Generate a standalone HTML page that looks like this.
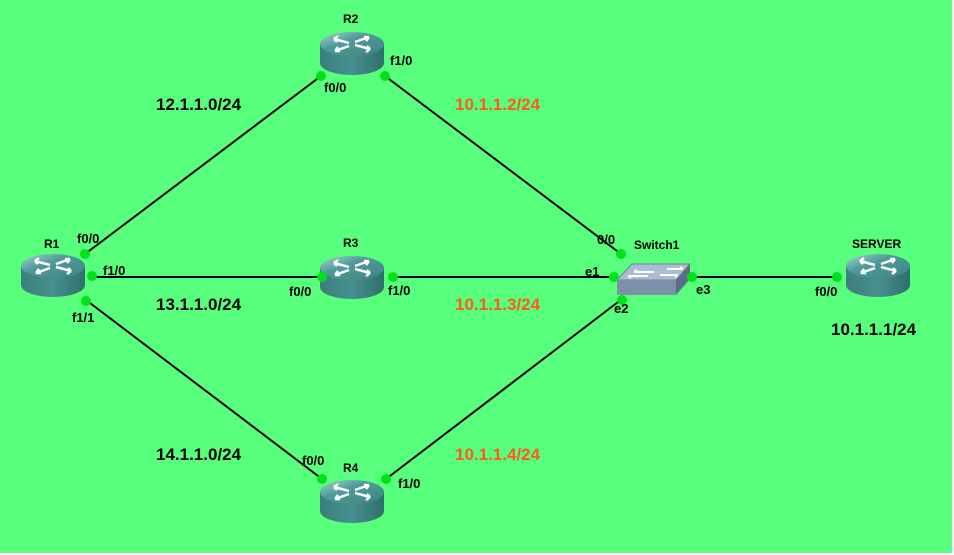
<!DOCTYPE html>
<html><head><style>
html,body{margin:0;padding:0;background:#fff;}
svg{display:block;}
text{font-family:"Liberation Sans",sans-serif;font-weight:bold;}
</style></head><body>
<svg width="954" height="555" viewBox="0 0 954 555" xmlns="http://www.w3.org/2000/svg">
<defs>
<linearGradient id="top" x1="0" y1="0" x2="1" y2="1">
<stop offset="0" stop-color="#a9d4d2"/><stop offset="0.4" stop-color="#4f9a98"/><stop offset="1" stop-color="#3e8583"/>
</linearGradient>
<linearGradient id="side" x1="0" y1="0" x2="1" y2="0">
<stop offset="0" stop-color="#3a7f7d"/><stop offset="0.5" stop-color="#46908e"/><stop offset="1" stop-color="#2f6f6d"/>
</linearGradient>
<g id="rt">
<path d="M-32,0 L-32,19 A32,12 0 0 0 32,19 L32,0 Z" fill="url(#side)"/>
<ellipse cx="0" cy="0" rx="32" ry="12" fill="url(#top)"/>
<g stroke="#fff" stroke-width="2.5" fill="none">
<path d="M-18,-5 L-3,-1 M-18,-5 l4,-3 M-18,-5 l3,3"/>
<path d="M18,5 L3,1 M18,5 l-4,3 M18,5 l-3,-3"/>
<path d="M-3,2 L-17,7 M-17,7 l5,0 M-17,7 l3,-4"/>
<path d="M3,-2 L17,-7 M17,-7 l-5,0 M17,-7 l-3,4"/>
</g>
</g>
</defs>
<rect x="0" y="0" width="952" height="553" fill="#57ff7d"/>
<g stroke="#000" stroke-width="2">
<line x1="85" y1="254" x2="321" y2="76"/>
<line x1="385" y1="76" x2="621" y2="254"/>
<line x1="92" y1="277" x2="322" y2="277"/>
<line x1="393" y1="277" x2="614" y2="277"/>
<line x1="86" y1="300" x2="322" y2="479"/>
<line x1="386" y1="479" x2="622" y2="299"/>
<line x1="692" y1="277" x2="835" y2="277"/>
</g>
<use href="#rt" x="352" y="44"/>
<use href="#rt" x="352" y="268"/>
<use href="#rt" x="352" y="492"/>
<use href="#rt" x="53" y="266"/>
<use href="#rt" x="878" y="266"/>
<!-- switch -->
<polygon points="617,280 632,264 690,264 676,280" fill="#a9bcd2" stroke="#6f829a" stroke-width="1"/>
<polygon points="676,280 690,264 690,279 676,295" fill="#5d6f86"/>
<rect x="617" y="280" width="59" height="15" fill="#7c90aa"/>
<g stroke="#fff" stroke-width="2" fill="none">
<path d="M634,272 L654,272 M634,272 l3,-2 M667,269 L683,269 M683,269 l-3,-2 M628,276 L648,276 M628,276 l3,2 M660,275 L678,275 M678,275 l-3,2"/>
</g>
<g fill="#00e31a">
<circle cx="321" cy="76" r="5"/><circle cx="385" cy="76" r="5"/>
<circle cx="85" cy="254" r="5"/><circle cx="92" cy="276" r="5"/><circle cx="86" cy="301" r="5"/>
<circle cx="322" cy="277" r="5"/><circle cx="393" cy="277" r="5"/>
<circle cx="322" cy="479" r="5"/><circle cx="386" cy="479" r="5"/>
<circle cx="621" cy="254" r="5"/><circle cx="614" cy="277" r="5"/><circle cx="622" cy="300" r="5"/>
<circle cx="692" cy="277" r="5"/><circle cx="837" cy="277" r="5"/>
</g>
<g font-size="12" fill="#000">
<text x="343" y="23">R2</text>
<text x="343" y="247">R3</text>
<text x="343" y="472">R4</text>
<text x="44" y="248">R1</text>
<text x="852" y="248">SERVER</text>
<text x="634" y="249">Switch1</text>
</g>
<g font-size="13" fill="#000" font-weight="bold">
<text x="324" y="92">f0/0</text>
<text x="390" y="65">f1/0</text>
<text x="77" y="243">f0/0</text>
<text x="103" y="275">f1/0</text>
<text x="72" y="322">f1/1</text>
<text x="289" y="296">f0/0</text>
<text x="388" y="295">f1/0</text>
<text x="302" y="465">f0/0</text>
<text x="398" y="488">f1/0</text>
<text x="597" y="244">0/0</text>
<text x="585" y="276">e1</text>
<text x="614" y="313">e2</text>
<text x="696" y="294">e3</text>
<text x="815" y="296">f0/0</text>
</g>
<g font-size="17" font-weight="bold">
<text x="156" y="110" fill="#000">12.1.1.0/24</text>
<text x="156" y="310" fill="#000">13.1.1.0/24</text>
<text x="156" y="460" fill="#000">14.1.1.0/24</text>
<text x="455" y="110" fill="#ff5a1a">10.1.1.2/24</text>
<text x="455" y="310" fill="#ff5a1a">10.1.1.3/24</text>
<text x="455" y="460" fill="#ff5a1a">10.1.1.4/24</text>
<text x="831" y="335" fill="#000">10.1.1.1/24</text>
</g>
</svg>
</body></html>
